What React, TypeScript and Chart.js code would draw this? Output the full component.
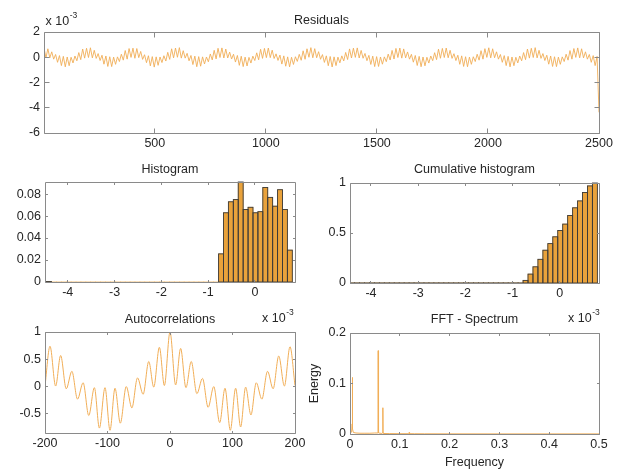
import React, { useEffect, useRef } from 'react';
import { Chart, registerables } from 'chart.js';

Chart.register(...registerables);

const FONT = "'Liberation Sans', Arial, sans-serif";
const TEXT = '#262626';
const BOX = '#8a8a8a';
const LINE = '#F1AE57';
const BAR_FILL = '#E9A23B';
const BAR_EDGE = '#3a3a3a';
const W = 621;
const H = 472;

// ---------- Residuals (units of 1e-3), fast-oscillation extrema, samples 1..2500
const residualValues = [
  0.74, -0.05, 0.67, -0.05, 0.43, -0.15, 0.22, -0.40, 0.13, -0.66, 0.07, -0.76, 0.02, -0.67, 0.00, -0.45, 0.10, -0.28, 0.37, -0.19, 0.65, -0.07, 0.71,
  -0.02, 0.75, -0.05, 0.55, -0.09, 0.29, -0.26, 0.16, -0.55, 0.10, -0.73, 0.04, -0.74, 0.01, -0.56, 0.03, -0.34, 0.24, -0.23, 0.53, -0.15, 0.69, -0.01,
  0.72, -0.08, 0.69, -0.03, 0.46, -0.17, 0.20, -0.43, 0.12, -0.68, 0.05, -0.78, 0.03, -0.64, 0.02, -0.42, 0.12, -0.30, 0.39, -0.17, 0.67, -0.05, 0.73,
  0.00, 0.76, -0.07, 0.52, -0.07, 0.31, -0.28, 0.14, -0.58, 0.09, -0.75, 0.05, -0.71, 0.03, -0.53, 0.02, -0.36, 0.26, -0.21, 0.55, -0.13, 0.71, -0.02,
  0.74, -0.06, 0.65, -0.06, 0.41, -0.14, 0.24, -0.38, 0.14, -0.64, 0.08, -0.74, 0.01, -0.69, -0.01, -0.46, 0.09, -0.26, 0.35, -0.20, 0.63, -0.09, 0.70,
  -0.03, 0.73, -0.03, 0.56, -0.10, 0.27, -0.25, 0.17, -0.54, 0.11, -0.71, 0.03, -0.76, 0.00, -0.57, 0.04, -0.33, 0.23, -0.24, 0.51, -0.16, 0.67, 0.00,
  0.76, -0.04, 0.68, -0.04, 0.44, -0.16, 0.21, -0.41, 0.11, -0.67, 0.06, -0.77, 0.03, -0.66, 0.01, -0.44, 0.11, -0.29, 0.38, -0.18, 0.66, -0.06, 0.72,
  -0.01, 0.74, -0.06, 0.54, -0.08, 0.30, -0.27, 0.15, -0.57, 0.09, -0.74, 0.05, -0.73, 0.02, -0.55, 0.03, -0.35, 0.25, -0.22, 0.54, -0.14, 0.70, -0.02,
  0.73, -0.07, 0.66, -0.05, 0.42, -0.15, 0.23, -0.39, 0.14, -0.65, 0.07, -0.75, 0.02, -0.68, 0.00, -0.46, 0.10, -0.27, 0.36, -0.19, 0.64, -0.08, 0.70,
  -0.02, 0.73, -0.04, 0.55, -0.09, 0.28, -0.26, 0.16, -0.56, 0.11, -0.73, 0.04, -0.75, 0.01, -0.56, 0.04, -0.34, 0.24, -0.23, 0.52, -0.15, 0.68, -0.01,
  0.75, -0.05, 0.67, -0.04, 0.43, -0.15, 0.22, -0.40, 0.13, -0.66, 0.07, -0.76, 0.02, -0.67, 0.00, -0.45, 0.10, -0.28, 0.37, -0.19, 0.65, -0.07, 0.71,
  -0.02, 0.76, -0.05, 0.55, -0.09, 0.29, -0.26, 0.16, -0.55, 0.10, -0.73, 0.04, -0.74, 0.01, -0.56, 0.03, -0.34, 0.24, -0.23, 0.53, -0.15, 0.69, -0.01,
  0.74, -0.05, 0.67, -0.05, 0.43, -0.15, 0.22, -0.40, 0.13, -0.66, 0.07,
  -4.36,
];
const residualFirstSample = 1;
const residualLastSample = 2500;
const residualXTicks = [500, 1000, 1500, 2000, 2500];
const residualYTicks = [-6, -4, -2, 0, 2];

// ---------- Histogram (x in units of 1e-3), 50 bins
const binCenters = [
  -4.40, -4.295, -4.19, -4.085, -3.98, -3.875, -3.77, -3.665, -3.56, -3.455,
  -3.35, -3.245, -3.14, -3.035, -2.93, -2.825, -2.72, -2.615, -2.51, -2.405,
  -2.30, -2.195, -2.09, -1.985, -1.88, -1.775, -1.67, -1.565, -1.46, -1.355,
  -1.25, -1.145, -1.04, -0.935, -0.83, -0.725, -0.62, -0.515, -0.41, -0.305,
  -0.20, -0.095, 0.01, 0.115, 0.22, 0.325, 0.43, 0.535, 0.64, 0.745,
];
const histFreq = [
  0.0004, 0, 0, 0, 0, 0, 0, 0, 0, 0,
  0, 0, 0, 0, 0, 0, 0, 0, 0, 0,
  0, 0, 0, 0, 0, 0, 0, 0, 0, 0,
  0, 0, 0, 0, 0, 0.0256, 0.063, 0.073, 0.075, 0.091,
  0.066, 0.068, 0.063, 0.064, 0.086, 0.077, 0.069, 0.084, 0.066, 0.029,
];
const histXTicks = [-4, -3, -2, -1, 0];
const histYTicks = [0, 0.02, 0.04, 0.06, 0.08];
const cumYTicks = [0, 0.5, 1];

// ---------- Autocorrelations (extrema by lag)
const acfLags = [
  -200, -192, -183, -175, -166, -157, -148, -139, -130, -121, -113, -104, -96, -88, -79.5, -70, -61, -52, -43, -34, -26, -17, -9,
  0, 9, 17, 25.5, 34, 43, 52, 61, 70, 79.5, 88, 96.5, 105, 113, 121, 129.5, 138, 147, 156, 165, 174, 183, 192, 200,
];
const acfValues = [
  0.01, 0.74, 0.01, 0.57, -0.04, 0.28, -0.23, 0.07, -0.53, -0.02, -0.76, -0.02, -0.80, -0.03, -0.67, 0.0, -0.39, 0.16, -0.14, 0.46, -0.01, 0.72, 0.02,
  1.0, 0.03, 0.70, -0.02, 0.46, -0.13, 0.15, -0.38, 0.0, -0.66, -0.03, -0.80, -0.03, -0.74, -0.01, -0.52, 0.07, -0.23, 0.28, -0.04, 0.56, 0.01, 0.73, 0.02,
];
const acfXTicks = [-200, -100, 0, 100, 200];
const acfYTicks = [-0.5, 0, 0.5, 1];

// ---------- FFT spectrum
const fftFreq = [
  0, 0.0016, 0.0032, 0.0044, 0.0048, 0.0052, 0.0068, 0.012, 0.02, 0.03, 0.04, 0.05,
  0.0556, 0.0562, 0.0566, 0.057, 0.0576, 0.064, 0.0656, 0.066, 0.0664, 0.068,
  0.08, 0.1, 0.118, 0.1188, 0.1196, 0.13, 0.15, 0.2, 0.3, 0.4, 0.5,
];
const fftEnergy = [
  0.004, 0.003, 0.004, 0.02, 0.112, 0.01, 0.003, 0.002, 0.0015, 0.0015, 0.0015, 0.002,
  0.002, 0.004, 0.165, 0.006, 0.002, 0.001, 0.002, 0.052, 0.002, 0.001,
  0.0008, 0.0006, 0.0006, 0.003, 0.0006, 0.0005, 0.0004, 0.0003, 0.0002, 0.0002, 0.0002,
];
const fftXTicks = [0, 0.1, 0.2, 0.3, 0.4, 0.5];
const fftYTicks = [0, 0.1, 0.2];

type Panel = {
  L: number; R: number; T: number; B: number;
  XH: number; YW: number;
  title: string; titleGap: number; tickLen: number;
  exp?: { x: number; y: number };
};

type AxisSpec = { min: number; max: number; ticks: number[]; title?: string };

const panels: Record<string, Panel> = {
  res: { L: 44, R: 599, T: 32, B: 133, XH: 25, YW: 30, title: 'Residuals', titleGap: 8, tickLen: 5, exp: { x: 45.5, y: 25 } },
  hist: { L: 45, R: 295, T: 182, B: 282, XH: 25, YW: 30, title: 'Histogram', titleGap: 9.5, tickLen: 2.5, exp: { x: 262, y: 322 } },
  cum: { L: 350, R: 599, T: 183, B: 283, XH: 25, YW: 30, title: 'Cumulative histogram', titleGap: 10, tickLen: 2.5, exp: { x: 568, y: 322 } },
  acf: { L: 45, R: 295, T: 332, B: 433, XH: 25, YW: 30, title: 'Autocorrelations', titleGap: 9, tickLen: 2.5 },
  fft: { L: 350, R: 599, T: 333, B: 434, XH: 36, YW: 43, title: 'FFT - Spectrum', titleGap: 10, tickLen: 2.5 },
};

function framePlugin(p: Panel) {
  return {
    id: 'frame',
    afterDraw(chart: any) {
      const { ctx, chartArea: a, scales } = chart;
      const l = Math.floor(a.left) + 0.5;
      const r = Math.floor(a.right) + 0.5;
      const t = Math.floor(a.top) + 0.5;
      const b = Math.floor(a.bottom) + 0.5;
      ctx.save();
      ctx.strokeStyle = BOX;
      ctx.lineWidth = 1;
      ctx.beginPath();
      ctx.rect(l, t, r - l, b - t);
      for (const tk of scales.x.ticks) {
        const px = Math.floor(scales.x.getPixelForValue(tk.value)) + 0.5;
        ctx.moveTo(px, b); ctx.lineTo(px, b - p.tickLen);
        ctx.moveTo(px, t); ctx.lineTo(px, t + p.tickLen);
      }
      for (const tk of scales.y.ticks) {
        const py = Math.floor(scales.y.getPixelForValue(tk.value)) + 0.5;
        ctx.moveTo(l, py); ctx.lineTo(l + p.tickLen, py);
        ctx.moveTo(r, py); ctx.lineTo(r - p.tickLen, py);
      }
      ctx.stroke();
      ctx.fillStyle = TEXT;
      ctx.font = `12.5px ${FONT}`;
      ctx.textAlign = 'center';
      ctx.textBaseline = 'alphabetic';
      ctx.fillText(p.title, (a.left + a.right) / 2, a.top - p.titleGap);
      if (p.exp) {
        ctx.textAlign = 'left';
        ctx.fillText('x 10', p.exp.x, p.exp.y);
        const w = ctx.measureText('x 10').width;
        ctx.font = `8.5px ${FONT}`;
        ctx.fillText('-3', p.exp.x + w + 0.5, p.exp.y - 7.5);
      }
      ctx.restore();
    },
  };
}

const barEdgePlugin = {
  id: 'barEdges',
  afterDatasetsDraw(chart: any) {
    const { ctx, chartArea: a } = chart;
    const meta = chart.getDatasetMeta(0);
    const data = chart.data.datasets[0].data as any[];
    ctx.save();
    ctx.beginPath();
    ctx.rect(a.left, a.top - 1, a.right - a.left, a.bottom - a.top + 2);
    ctx.clip();
    ctx.strokeStyle = BAR_EDGE;
    ctx.lineWidth = 0.9;
    meta.data.forEach((el: any, i: number) => {
      const d = data[i];
      const v = typeof d === 'object' ? d.y : d;
      if (!v) return;
      const { x, y, base, width } = el.getProps(['x', 'y', 'base', 'width'], true);
      ctx.strokeRect(x - width / 2, Math.min(y, base), width, Math.abs(base - y));
    });
    ctx.restore();
  },
};

function axis(which: 'x' | 'y', spec: AxisSpec, p: Panel) {
  return {
    type: 'linear',
    position: which === 'x' ? 'bottom' : 'left',
    min: spec.min,
    max: spec.max,
    offset: false,
    grid: { display: false, drawTicks: false, offset: false },
    border: { display: false },
    ticks: {
      color: TEXT,
      font: { family: FONT, size: 12.5 },
      padding: which === 'x' ? 3 : 4,
      autoSkip: false,
      maxRotation: 0,
      minRotation: 0,
      callback: (v: any) => String(v),
    },
    afterBuildTicks: (s: any) => {
      s.ticks = spec.ticks.map((v) => ({ value: v }));
    },
    afterFit: (s: any) => {
      if (which === 'x') s.height = p.XH;
      else s.width = p.YW;
      s.paddingLeft = 0;
      s.paddingRight = 0;
      s.paddingTop = 0;
      s.paddingBottom = 0;
    },
    title: spec.title
      ? { display: true, text: spec.title, color: TEXT, font: { family: FONT, size: 12.5 }, padding: 0 }
      : { display: false },
  };
}

function baseOptions(p: Panel, xs: AxisSpec, ys: AxisSpec) {
  return {
    responsive: false,
    animation: false,
    events: [],
    layout: { padding: { left: p.L - p.YW, right: W - p.R, top: p.T, bottom: H - p.B - p.XH } },
    plugins: { legend: { display: false }, tooltip: { enabled: false }, title: { display: false } },
    scales: { x: axis('x', xs, p), y: axis('y', ys, p) },
  };
}

function residualConfig(): any {
  const p = panels.res;
  const step = (residualLastSample - residualFirstSample) / (residualValues.length - 1);
  return {
    type: 'line',
    data: {
      datasets: [{
        data: residualValues.map((v, i) => ({ x: residualFirstSample + i * step, y: v })),
        borderColor: LINE, borderWidth: 0.9, pointRadius: 0, tension: 0, fill: false,
      }],
    },
    options: baseOptions(p, { min: residualFirstSample, max: residualLastSample, ticks: residualXTicks }, { min: -6, max: 2, ticks: residualYTicks }),
    plugins: [framePlugin(p)],
  };
}

function histConfig(cumulative: boolean): any {
  const p = cumulative ? panels.cum : panels.hist;
  let run = 0;
  const values = cumulative ? histFreq.map((v) => (run += v)) : histFreq;
  const xs = cumulative ? { min: -4.445, max: 0.832, ticks: histXTicks } : { min: -4.485, max: 0.855, ticks: histXTicks };
  const ys = cumulative ? { min: 0, max: 1, ticks: cumYTicks } : { min: 0, max: 0.091, ticks: histYTicks };
  return {
    type: 'bar',
    data: {
      datasets: [{
        data: binCenters.map((c, i) => ({ x: c, y: values[i] })),
        backgroundColor: BAR_FILL, borderWidth: 0, barPercentage: 1, categoryPercentage: 1,
      }],
    },
    options: baseOptions(p, xs, ys),
    plugins: [barEdgePlugin, framePlugin(p)],
  };
}

function acfConfig(): any {
  const p = panels.acf;
  return {
    type: 'line',
    data: {
      datasets: [{
        data: acfLags.map((l, i) => ({ x: l, y: acfValues[i] })),
        borderColor: LINE, borderWidth: 1, pointRadius: 0, cubicInterpolationMode: 'monotone', fill: false,
      }],
    },
    options: baseOptions(p, { min: -200, max: 200, ticks: acfXTicks }, { min: -0.85, max: 1, ticks: acfYTicks }),
    plugins: [framePlugin(p)],
  };
}

function fftConfig(): any {
  const p = panels.fft;
  return {
    type: 'line',
    data: {
      datasets: [{
        data: fftFreq.map((f, i) => ({ x: f, y: fftEnergy[i] })),
        borderColor: LINE, borderWidth: 1, pointRadius: 0, tension: 0, fill: false,
      }],
    },
    options: baseOptions(p,
      { min: 0, max: 0.5, ticks: fftXTicks, title: 'Frequency' },
      { min: 0, max: 0.2, ticks: fftYTicks, title: 'Energy' }),
    plugins: [framePlugin(p)],
  };
}

export default function App() {
  const r0 = useRef<HTMLCanvasElement>(null);
  const r1 = useRef<HTMLCanvasElement>(null);
  const r2 = useRef<HTMLCanvasElement>(null);
  const r3 = useRef<HTMLCanvasElement>(null);
  const r4 = useRef<HTMLCanvasElement>(null);
  const refs = [r0, r1, r2, r3, r4];

  useEffect(() => {
    Chart.defaults.font.family = FONT;
    const configs = [residualConfig(), histConfig(false), histConfig(true), acfConfig(), fftConfig()];
    const charts = configs.map((cfg, i) => new Chart(refs[i].current as HTMLCanvasElement, cfg));
    return () => charts.forEach((c) => c.destroy());
  }, []);

  return (
    <div style={{ position: 'absolute', left: 0, top: 0, width: W, height: H, background: '#ffffff' }}>
      {refs.map((r, i) => (
        <canvas
          key={i}
          ref={r}
          width={W}
          height={H}
          style={{ position: 'absolute', left: 0, top: 0, width: W, height: H, pointerEvents: 'none' }}
        />
      ))}
    </div>
  );
}
